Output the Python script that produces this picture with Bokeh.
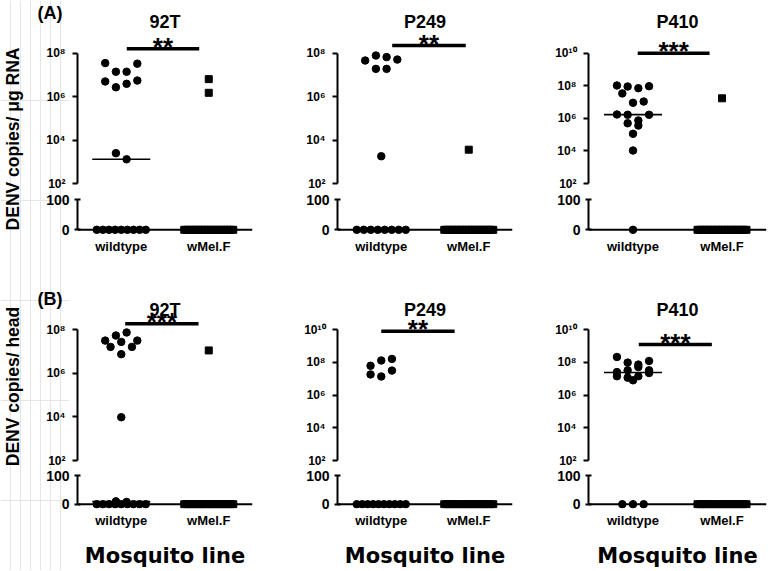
import numpy as np
from bokeh.plotting import figure
from bokeh.models import Range1d, FixedTicker, CustomJSTickFormatter, Span, Label
from bokeh.layouts import row, column
from bokeh.embed import file_html
from bokeh.resources import INLINE

FONT = "Liberation Sans"

# ---------------- data ----------------
groups = ["wildtype", "wMel.F"]
panel_titles = ["92T", "P249", "P410"]
row_letters = ["(A)", "(B)"]
row_ylabels = ["DENV copies/ \u03bcg RNA", "DENV copies/ head"]
x_title = "Mosquito line"

# (A) DENV copies / ug RNA
rna_92T_wildtype = [3.5e7, 1.4e7, 1.4e7, 3.3e7, 5.0e6, 2.7e6, 3.9e6, 5.5e6, 2.5e3, 1.3e3,
                    0, 0, 0, 0, 0, 0, 0, 0, 0]
rna_92T_wmel = [6.4e6, 1.5e6, 0, 0, 0, 0, 0, 0, 0, 0, 0, 0, 0, 0, 0, 0, 0, 0, 0, 0]
rna_P249_wildtype = [4.6e7, 7.8e7, 6.6e7, 5.1e7, 1.9e7, 1.9e7, 1.8e3,
                     0, 0, 0, 0, 0, 0, 0, 0]
rna_P249_wmel = [3.6e3, 0, 0, 0, 0, 0, 0, 0, 0, 0, 0, 0, 0, 0, 0, 0, 0, 0, 0, 0]
rna_P410_wildtype = [1.04e8, 9.0e7, 7.1e7, 9.4e7, 3.4e7, 9.0e6, 1.08e7, 1.73e6, 1.66e6,
                     7.4e5, 1.66e6, 5.0e5, 3.6e5, 1.13e5, 1.06e4, 0]
rna_P410_wmel = [1.7e7, 0, 0, 0, 0, 0, 0, 0, 0, 0, 0, 0, 0, 0, 0, 0, 0, 0, 0, 0]

# (B) DENV copies / head
head_92T_wildtype = [3.1e7, 5.3e7, 7.3e7, 3.1e7, 1.6e7, 2.7e7, 1.6e7, 7.4e6, 9.6e3, 10, 8,
                     0, 0, 0, 0, 0, 0, 0, 0, 0]
head_92T_wmel = [1.1e7, 0, 0, 0, 0, 0, 0, 0, 0, 0, 0, 0, 0, 0, 0, 0, 0, 0, 0, 0]
head_P249_wildtype = [6.1e7, 1.28e8, 1.6e8, 1.8e7, 1.35e7, 3.1e7,
                      0, 0, 0, 0, 0, 0, 0, 0, 0, 0]
head_P249_wmel = [0, 0, 0, 0, 0, 0, 0, 0, 0, 0, 0, 0, 0, 0, 0, 0, 0, 0]
head_P410_wildtype = [2.1e8, 9.5e7, 7.2e7, 1.2e8, 2.5e7, 3.2e7, 5.1e7, 3.2e7, 1.4e7, 1.15e7,
                      1.4e7, 2.2e7, 7.9e6, 0, 0, 0]
head_P410_wmel = [0, 0, 0, 0, 0, 0, 0, 0, 0, 0, 0, 0, 0, 0, 0, 0, 0, 0]

significance = [["**", "**", "***"], ["***", "**", "***"]]
top_exponent = [[8, 8, 10], [8, 10, 10]]   # upper end of the log axis

DATA = [[(rna_92T_wildtype, rna_92T_wmel), (rna_P249_wildtype, rna_P249_wmel),
         (rna_P410_wildtype, rna_P410_wmel)],
        [(head_92T_wildtype, head_92T_wmel), (head_P249_wildtype, head_P249_wmel),
         (head_P410_wildtype, head_P410_wmel)]]

# ---------------- layout (page pixels) ----------------
STRIP_W, STRIP_OVERLAP = 69, 39
PAGE_H = 570
COLS = [dict(x0=30, x1=290, f0=77, f1=252),
        dict(x0=290, x1=540, f0=337, f1=512),
        dict(x0=540, x1=770, f0=588, f1=766)]
ROWS = [dict(top=(0, 191), top_frame=(0, 183), tick_px=52.7,
             bot=(191, 258), bot_frame=(192, 234), px100=199.3, px0=229.3,
             title_mid=21.7, letter_mid=12.0, ylab_c=138.5),
        dict(top=(258, 468), top_frame=(258, 460), tick_px=329.0,
             bot=(468, PAGE_H), bot_frame=(469, 510), px100=475.5, px0=505.5,
             title_mid=309.3, letter_mid=298.0, ylab_c=386.0)]
SIG_BARS = [[(1.063, 1.891, 48.3), (1.125, 1.966, 45.0), (1.053, 1.860, 52.7)],
            [(1.045, 1.883, 323.3), (1.0, 1.839, 330.7), (1.065, 1.886, 344.0)]]

SUP_JS = """
const sup = ["\\u2070","\\u00b9","\\u00b2","\\u00b3","\\u2074","\\u2075","\\u2076","\\u2077","\\u2078","\\u2079"];
const e = Math.round(Math.log10(tick));
return "10" + String(e).split("").map(c => sup[parseInt(c)]).join("");
"""


def swarm(px, t, max_row, step=10.7, span=49.0):
    """GraphPad-like rows: points close in y are spread side by side."""
    order = sorted(range(len(px)), key=lambda i: (px[i], i))
    rows = []
    for i in order:
        if rows and px[i] - px[rows[-1][0]] <= t and (max_row is None or len(rows[-1]) < max_row):
            rows[-1].append(i)
        else:
            rows.append([i])
    off = [0.0] * len(px)
    for r in rows:
        r = sorted(r)
        k = len(r)
        s = step if k == 1 else min(step, span / (k - 1))
        for j, i in enumerate(r):
            off[i] = (j - (k - 1) / 2.0) * s
    return np.array(off)


def style_axis(ax, size):
    ax.axis_line_width = 2
    ax.axis_line_color = "black"
    ax.major_tick_line_width = 2
    ax.major_tick_line_color = "black"
    ax.minor_tick_line_color = None
    ax.minor_tick_out = 0
    ax.major_label_text_font = FONT
    ax.major_label_text_font_style = "bold"
    ax.major_label_text_font_size = size
    ax.major_label_text_color = "black"


def text_label(x, y, text, size, align="center", angle=0.0):
    return Label(x=x, y=y, text=text, text_font=FONT, text_font_style="bold",
                 text_font_size=size, text_align=align, text_baseline="middle",
                 text_color="black", angle=angle)


def new_fig(col, fig_y, frame_y, **kw):
    p = figure(width=col["x1"] - col["x0"], height=fig_y[1] - fig_y[0],
               x_range=Range1d(0.5, 2.5), min_border=0,
               min_border_left=col["f0"] - col["x0"], min_border_right=col["x1"] - col["f1"],
               min_border_top=frame_y[0] - fig_y[0], min_border_bottom=fig_y[1] - frame_y[1],
               output_backend="svg", toolbar_location=None, **kw)
    p.outline_line_color = None
    p.background_fill_color = None
    p.border_fill_color = None
    p.grid.visible = False
    return p


def build(ri, ci):
    col, rw = COLS[ci], ROWS[ri]
    wt, wm = DATA[ri][ci]
    E = top_exponent[ri][ci]
    ft, fb = rw["top_frame"]
    ppd = (fb - rw["tick_px"]) / (E - 2)
    end_exp = E + (rw["tick_px"] - ft) / ppd
    ppx = (col["f1"] - col["f0"]) / 2.0

    def top_px(v):
        return fb - (np.log10(v) - 2) * ppd

    def top_val(p):
        return 10 ** (2 + (fb - p) / ppd)

    top = new_fig(col, rw["top"], rw["top_frame"], y_range=Range1d(1e2, 10 ** end_exp),
                  y_axis_type="log", x_axis_location=None)
    ya = top.yaxis[0]
    ya.ticker = FixedTicker(ticks=[10.0 ** e for e in range(2, E + 1, 2)])
    ya.formatter = CustomJSTickFormatter(code=SUP_JS)
    ya.bounds = (1e2, 10.0 ** E)
    style_axis(ya, "12px")
    ya.major_tick_in = 0
    ya.major_tick_out = 5
    ya.major_label_standoff = 7

    bt, bb = rw["bot_frame"]
    k = (rw["px0"] - rw["px100"]) / 100.0

    def bot_px(v):
        return rw["px0"] - v * k

    bot = new_fig(col, rw["bot"], rw["bot_frame"],
                  y_range=Range1d(-(bb - rw["px0"]) / k, 100 + (rw["px100"] - bt) / k))
    yb = bot.yaxis[0]
    yb.ticker = FixedTicker(ticks=[0, 100])
    yb.bounds = (0, 100)
    style_axis(yb, "14px")
    yb.major_tick_in = 3
    yb.major_tick_out = 3
    yb.major_label_standoff = 5
    xb = bot.xaxis[0]
    xb.ticker = FixedTicker(ticks=[1, 2])
    xb.formatter = CustomJSTickFormatter(args=dict(names=groups),
                                         code="return names[Math.round(tick) - 1];")
    style_axis(xb, "13px")
    xb.axis_line_color = None
    xb.major_tick_line_color = None
    xb.major_tick_in = 0
    xb.major_tick_out = 0
    xb.major_label_standoff = 4
    if ri == 1:
        xb.axis_label = x_title
        xb.axis_label_text_font = "DejaVu Sans"
        xb.axis_label_text_font_style = "bold"
        xb.axis_label_text_font_size = "21px"
        xb.axis_label_text_color = "black"
        xb.axis_label_standoff = 13
    bot.add_layout(Span(location=0, dimension="width", line_color="black", line_width=2))

    for gi, (vals, marker) in enumerate([(wt, "circle"), (wm, "square")]):
        vals = np.asarray(vals, dtype=float)
        xc = gi + 1
        med = float(np.median(vals))
        tgt = top if med >= 100 else bot
        tgt.line([xc - 29 / ppx, xc + 29 / ppx], [med, med], line_width=1.6, line_color="black")
        hi = vals[vals >= 100]
        lo = vals[vals < 100]
        size = 7.5 if marker == "circle" else 7
        if len(hi):
            off = swarm(top_px(hi), t=9.5, max_row=4)
            top.scatter(xc + off / ppx, hi, marker=marker, size=size, color="black")
        if len(lo):
            off = swarm(bot_px(lo), t=2.0, max_row=None)
            bot.scatter(xc + off / ppx, lo, marker=marker, size=size, color="black")

    x0, x1, py = SIG_BARS[ri][ci]
    top.line([x0, x1], [top_val(py), top_val(py)], line_width=3.5, line_color="black")
    top.add_layout(text_label((x0 + x1) / 2, top_val(py - 2.0), significance[ri][ci], "26px"))
    top.add_layout(text_label(1.5, top_val(rw["title_mid"]), panel_titles[ci], "18px"))
    return top, bot


panels = [[build(ri, ci) for ci in range(3)] for ri in range(2)]

# left strip: row y-labels and panel letters (the first column overlaps it transparently)
strip = figure(width=STRIP_W, height=PAGE_H, x_range=Range1d(0, STRIP_W),
               y_range=Range1d(PAGE_H, 0), x_axis_location=None, y_axis_location=None,
               min_border=0, output_backend="svg", toolbar_location=None,
               margin=(0, -STRIP_OVERLAP, 0, 0))
strip.outline_line_color = None
for ri in range(2):
    strip.add_layout(text_label(12, ROWS[ri]["ylab_c"], row_ylabels[ri], "17.5px",
                                angle=np.pi / 2))
    strip.add_layout(text_label(37, ROWS[ri]["letter_mid"], row_letters[ri], "18px",
                                align="left"))

cols = [column(panels[0][ci][0], panels[0][ci][1], panels[1][ci][0], panels[1][ci][1], spacing=0)
        for ci in range(3)]
layout = row(strip, *cols, spacing=0)

open("out.html", "w", encoding="utf-8").write(file_html(layout, INLINE))
